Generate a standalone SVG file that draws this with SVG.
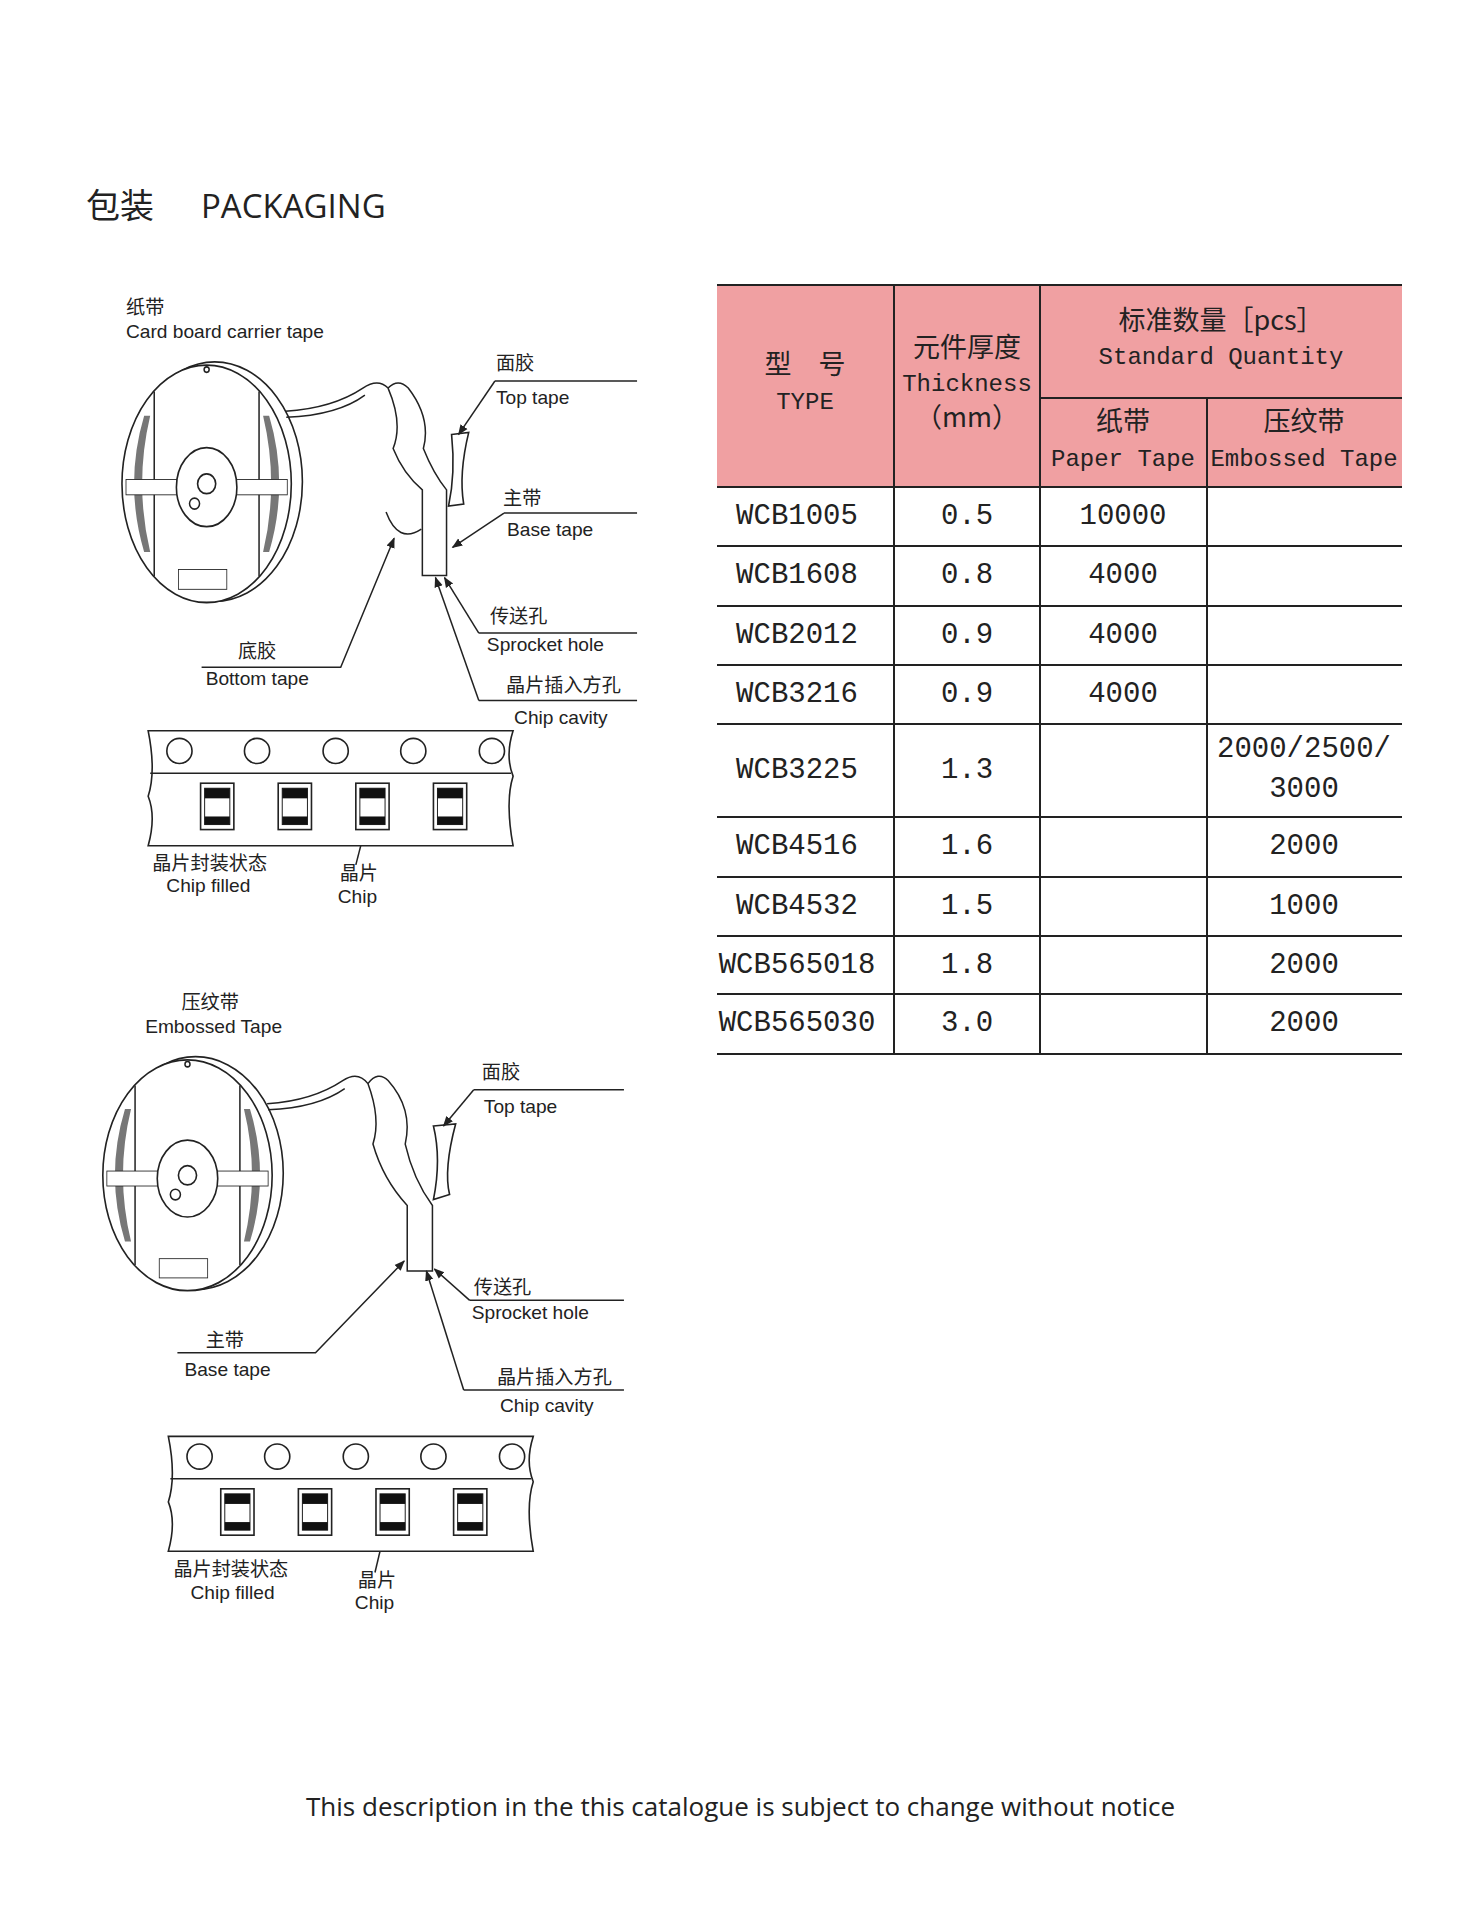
<svg xmlns="http://www.w3.org/2000/svg" width="1477" height="1920" viewBox="0 0 1477 1920">
<style>
.s{font-family:"Liberation Sans","Noto Sans CJK SC",sans-serif;font-size:19px;fill:#222}
.c{font-family:"Noto Sans CJK SC",sans-serif;font-size:19px;fill:#222}
.m{font-family:"Liberation Mono","Noto Sans CJK SC",monospace;font-size:29px;fill:#222;text-anchor:middle}
.h{font-family:"Liberation Mono","Noto Sans CJK SC",monospace;font-size:24px;fill:#222;text-anchor:middle}
.hc{font-family:"Noto Sans CJK SC",serif;font-size:27px;fill:#222;text-anchor:middle}
.ln{stroke:#222;stroke-width:1.5;fill:none}
.tl{stroke:#222;stroke-width:2;fill:none}
.d{stroke:#222;stroke-width:1.6;fill:#fff}
</style>
<defs>
<marker id="a" viewBox="0 0 10 10" refX="9" refY="5" markerWidth="7" markerHeight="7" orient="auto"><path d="M0,1 L10,5 L0,9 z" fill="#222"/></marker>
<g id="reel">
<ellipse cx="8" cy="-2" rx="87" ry="109" class="d"/>
<ellipse cx="0" cy="0" rx="84" ry="108" class="d"/>
<line x1="-52" y1="-84" x2="-52" y2="84" class="ln" stroke-width="1"/>
<line x1="52" y1="-84" x2="52" y2="84" class="ln" stroke-width="1"/>
<path d="M-62,-62 Q-82,0 -62,62 L-56,62 Q-72,0 -56,-62 z" fill="#777"/>
<path d="M62,-62 Q82,0 62,62 L56,62 Q72,0 56,-62 z" fill="#777"/>
<rect x="-80" y="-4" width="160" height="14" fill="#fff" stroke="#222" stroke-width="0.8"/>
<ellipse cx="0" cy="3" rx="30" ry="36" class="d"/>
<circle cx="0" cy="0" r="9" class="d"/>
<circle cx="-12" cy="18" r="5" class="ln" stroke-width="1"/>
<rect x="-28" y="78" width="48" height="18" fill="#fff" stroke="#222" stroke-width="0.8"/>
<circle cx="0" cy="-104" r="2.5" class="ln" stroke-width="1"/>
</g>
<g id="strip">
<path d="M0,0 H362 Q354,25 362,45 Q354,70 362,114 H0 Q8,85 0,65 Q8,40 0,0 z" class="d"/>
<line x1="2" y1="42" x2="360" y2="42" class="ln"/>
<circle cx="31" cy="20" r="12.5" class="d"/><circle cx="108" cy="20" r="12.5" class="d"/><circle cx="186" cy="20" r="12.5" class="d"/><circle cx="263" cy="20" r="12.5" class="d"/><circle cx="341" cy="20" r="12.5" class="d"/>
<g id="chip"><rect x="52" y="52" width="33" height="46" class="d"/><rect x="56" y="57" width="25" height="36" fill="#fff" stroke="#222"/><rect x="56" y="57" width="25" height="10" fill="#111"/><rect x="56" y="85" width="25" height="8" fill="#111"/></g>
<use href="#chip" x="77"/><use href="#chip" x="154"/><use href="#chip" x="231"/>
</g>
</defs>

<text x="86" y="218" font-family="Noto Sans CJK SC,sans-serif" font-size="34" fill="#222">包装</text>
<text x="201" y="218" font-family="Open Sans,sans-serif" font-size="33" fill="#222">PACKAGING</text>

<g transform="matrix(1.008,0,0,1.008,0,0)">
<g id="paper-diagram">
<text x="125" y="312" class="c">纸带</text>
<text x="125" y="335" class="s" font-size="18">Card board carrier tape</text>
<use href="#reel" transform="translate(205,480) scale(1,1.09)"/>
<path d="M283,408 Q330,405 360,385 Q375,375 385,385 Q400,420 390,445 Q400,470 419,486 L419,571 L443,571 L443,486 Q430,470 420,445 Q428,415 405,385 Q395,375 385,385" class="ln" stroke-width="1"/>
<path d="M284,414 Q335,412 362,392" class="ln" stroke-width="1"/>
<path d="M448,431 L465,429 Q455,470 460,500 L445,502 Q452,470 448,431z" class="d" stroke-width="1"/>
<path d="M383,508 Q395,540 418,525" class="ln" stroke-width="1"/>
<g id="paper-connectors">
<path d="M491,378 H632" class="ln"/><path d="M491,378 L455,431" class="ln" marker-end="url(#a)"/>
<path d="M500,509 H632" class="ln"/><path d="M500,509 L449,543" class="ln" marker-end="url(#a)"/>
<path d="M475,628 H632" class="ln"/><path d="M475,628 L441,573" class="ln" marker-end="url(#a)"/>
<path d="M475,695 H632" class="ln"/><path d="M475,695 L432,573" class="ln" marker-end="url(#a)"/>
<path d="M200,662 H338 L391,534" class="ln" marker-end="url(#a)"/>
<path d="M353,858 L362,823" class="ln" marker-end="url(#a)"/>
</g>
<text x="492" y="367" class="c">面胶</text><text x="492" y="401" class="s">Top tape</text>
<text x="499" y="501" class="c">主带</text><text x="503" y="532" class="s">Base tape</text>
<text x="486" y="618" class="c">传送孔</text><text x="483" y="646" class="s">Sprocket hole</text>
<text x="502" y="687" class="c">晶片插入方孔</text><text x="510" y="718" class="s">Chip cavity</text>
<text x="236" y="653" class="c">底胶</text><text x="204" y="680" class="s">Bottom tape</text>
<use href="#strip" x="147" y="725"/>
<text x="151" y="863" class="c">晶片封装状态</text><text x="165" y="885" class="s">Chip filled</text>
<text x="337" y="873" class="c">晶片</text><text x="335" y="896" class="s">Chip</text>
</g>

<g id="embossed-diagram">
<text x="180" y="1001" class="c">压纹带</text>
<text x="144" y="1025" class="s" font-size="18">Embossed Tape</text>
<use href="#reel" transform="translate(186,1166) scale(1,1.06)"/>
<path d="M265,1095 Q310,1092 340,1072 Q355,1062 365,1075 Q378,1110 370,1135 Q380,1170 404,1196 L404,1261 L429,1261 L429,1196 Q410,1170 402,1135 Q410,1100 385,1072 Q375,1062 365,1075" class="ln" stroke-width="1"/>
<path d="M266,1101 Q315,1099 342,1080" class="ln" stroke-width="1"/>
<path d="M430,1117 L452,1115 Q440,1160 446,1185 L430,1190 Q438,1150 430,1117z" class="d" stroke-width="1"/>
<g id="embossed-connectors">
<path d="M470,1081 H619" class="ln"/><path d="M470,1081 L440,1117" class="ln" marker-end="url(#a)"/>
<path d="M466,1290 H619" class="ln"/><path d="M466,1290 L431,1259" class="ln" marker-end="url(#a)"/>
<path d="M460,1379 H619" class="ln"/><path d="M460,1379 L423,1261" class="ln" marker-end="url(#a)"/>
<path d="M176,1342 H313 L401,1251" class="ln" marker-end="url(#a)"/>
<path d="M372,1560 L381,1522" class="ln" marker-end="url(#a)"/>
</g>
<text x="478" y="1070" class="c">面胶</text><text x="480" y="1104" class="s">Top tape</text>
<text x="470" y="1284" class="c">传送孔</text><text x="468" y="1309" class="s">Sprocket hole</text>
<text x="204" y="1336" class="c">主带</text><text x="183" y="1365" class="s">Base tape</text>
<text x="493" y="1373" class="c">晶片插入方孔</text><text x="496" y="1401" class="s">Chip cavity</text>
<use href="#strip" x="167" y="1425"/>
<text x="172" y="1563" class="c">晶片封装状态</text><text x="189" y="1586" class="s">Chip filled</text>
<text x="355" y="1574" class="c">晶片</text><text x="352" y="1596" class="s">Chip</text>
</g>
</g>

<g id="table">
<rect x="717" y="285" width="685" height="202" fill="#F0A0A2"/>
<path d="M717,285 H1402 M1040,398 H1402 M717,487 H1402 M717,546 H1402 M717,606 H1402 M717,665 H1402 M717,724 H1402 M717,817 H1402 M717,877 H1402 M717,936 H1402 M717,994 H1402 M717,1054 H1402" class="tl"/>
<path d="M894,285 V1054 M1040,285 V1054 M1207,398 V1054" class="tl"/>
<text x="805" y="374" class="hc">型　号</text>
<text x="805" y="409" class="h" font-size="25">TYPE</text>
<text x="967" y="357" class="hc">元件厚度</text>
<text x="967" y="391" class="h">Thickness</text>
<text x="967" y="427" class="hc" font-size="25">（mm）</text>
<text x="1221" y="330" class="hc">标准数量［pcs］</text>
<text x="1221" y="364" class="h">Standard Quantity</text>
<text x="1123" y="431" class="hc">纸带</text>
<text x="1123" y="466" class="h">Paper Tape</text>
<text x="1304" y="431" class="hc">压纹带</text>
<text x="1304" y="466" class="h">Embossed Tape</text>
<g class="m">
<text x="797" y="524">WCB1005</text><text x="967" y="524">0.5</text><text x="1123" y="524">10000</text>
<text x="797" y="583">WCB1608</text><text x="967" y="583">0.8</text><text x="1123" y="583">4000</text>
<text x="797" y="643">WCB2012</text><text x="967" y="643">0.9</text><text x="1123" y="643">4000</text>
<text x="797" y="702">WCB3216</text><text x="967" y="702">0.9</text><text x="1123" y="702">4000</text>
<text x="797" y="778">WCB3225</text><text x="967" y="778">1.3</text><text x="1304" y="757">2000/2500/</text><text x="1304" y="797">3000</text>
<text x="797" y="854">WCB4516</text><text x="967" y="854">1.6</text><text x="1304" y="854">2000</text>
<text x="797" y="914">WCB4532</text><text x="967" y="914">1.5</text><text x="1304" y="914">1000</text>
<text x="797" y="973">WCB565018</text><text x="967" y="973">1.8</text><text x="1304" y="973">2000</text>
<text x="797" y="1031">WCB565030</text><text x="967" y="1031">3.0</text><text x="1304" y="1031">2000</text>
</g>
</g>

<text x="306" y="1816" font-family="Open Sans,sans-serif" font-size="26" fill="#222">This description in the this catalogue is subject to change without notice</text>
</svg>
